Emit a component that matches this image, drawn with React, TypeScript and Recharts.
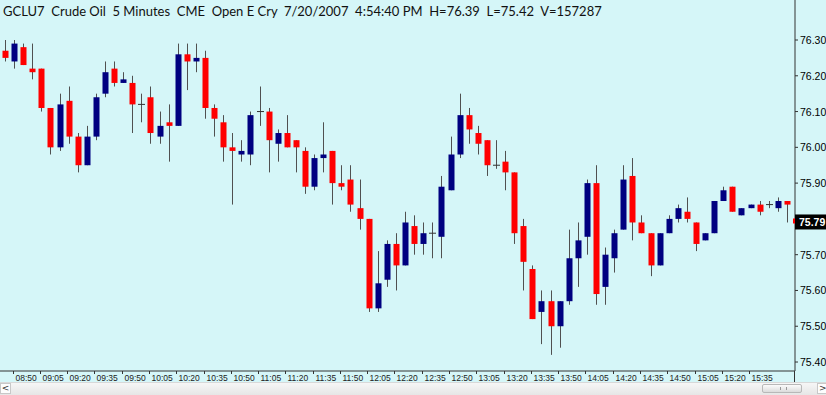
import React from "react";
import { ComposedChart, Bar, XAxis, YAxis } from "recharts";

const times = [
  "08:45","08:50","08:55","09:00","09:05","09:10","09:15","09:20","09:25","09:30",
  "09:35","09:40","09:45","09:50","09:55","10:00","10:05","10:10","10:15","10:20",
  "10:25","10:30","10:35","10:40","10:45","10:50","10:55","11:00","11:05","11:10",
  "11:15","11:20","11:25","11:30","11:35","11:40","11:45","11:50","11:55","12:00",
  "12:05","12:10","12:15","12:20","12:25","12:30","12:35","12:40","12:45","12:50",
  "12:55","13:00","13:05","13:10","13:15","13:20","13:25","13:30","13:35","13:40",
  "13:45","13:50","13:55","14:00","14:05","14:10","14:15","14:20","14:25","14:30",
  "14:35","14:40","14:45","14:50","14:55","15:00","15:05","15:10","15:15","15:20",
  "15:25","15:30","15:35","15:40","15:45","15:50","15:55",
];

const opens = [
  76.27,76.24,76.28,76.22,76.22,76.11,76.00,76.13,76.03,75.95,
  76.03,76.15,76.22,76.18,76.18,76.12,76.14,76.03,76.07,76.06,
  76.26,76.24,76.25,76.11,76.07,76.00,75.98,75.98,76.10,76.10,
  76.01,76.04,76.02,75.99,75.89,75.97,75.99,75.90,75.91,75.83,
  75.80,75.55,75.63,75.73,75.67,75.78,75.73,75.76,75.75,75.88,
  75.98,76.09,76.04,76.02,75.95,75.96,75.93,75.78,75.66,75.54,
  75.57,75.50,75.57,75.69,75.75,75.90,75.61,75.69,75.77,75.92,
  75.79,75.76,75.67,75.76,75.80,75.82,75.79,75.74,75.76,75.85,
  75.89,75.81,75.83,75.84,75.84,75.83,75.85,
];
const highs = [
  76.30,76.30,76.29,76.29,76.22,76.11,76.15,76.17,76.04,76.06,
  76.15,76.24,76.24,76.21,76.20,76.15,76.17,76.10,76.12,76.29,
  76.29,76.29,76.27,76.12,76.09,76.04,76.02,76.10,76.17,76.11,
  76.05,76.09,76.02,76.00,75.98,76.07,75.99,75.95,75.95,75.91,
  75.80,75.71,75.74,75.76,75.82,75.81,75.79,75.79,75.92,76.03,
  76.15,76.11,76.06,76.02,76.02,75.99,75.93,75.80,75.67,75.60,
  75.60,75.57,75.77,75.79,75.91,75.95,75.72,75.77,75.95,75.97,
  75.81,75.76,75.76,75.81,75.84,75.86,75.79,75.76,75.85,75.89,
  75.89,75.83,75.84,75.85,75.85,75.86,75.85,
];
const lows = [
  76.24,76.22,76.23,76.19,76.10,75.98,75.99,76.01,75.93,75.95,
  76.02,76.14,76.17,76.18,76.04,76.07,76.01,76.01,75.96,76.06,
  76.16,76.21,76.08,76.03,75.96,75.84,75.96,75.95,76.06,75.93,
  75.96,76.00,75.93,75.87,75.88,75.93,75.84,75.88,75.82,75.77,
  75.54,75.54,75.61,75.60,75.67,75.70,75.70,75.69,75.69,75.88,
  75.97,76.01,75.98,75.92,75.94,75.88,75.73,75.60,75.52,75.45,
  75.42,75.44,75.56,75.61,75.70,75.56,75.56,75.65,75.77,75.74,
  75.76,75.64,75.67,75.76,75.79,75.79,75.71,75.74,75.76,75.85,
  75.82,75.81,75.83,75.81,75.83,75.82,75.79,
];
const closes = [
  76.25,76.29,76.23,76.21,76.11,76.00,76.12,76.03,75.95,76.03,
  76.14,76.21,76.18,76.19,76.12,76.12,76.04,76.06,76.06,76.26,
  76.24,76.25,76.11,76.08,76.00,75.99,75.99,76.09,76.10,76.02,
  76.04,76.00,76.00,75.89,75.97,75.98,75.90,75.89,75.84,75.80,
  75.55,75.62,75.73,75.67,75.79,75.73,75.76,75.76,75.89,75.98,
  76.09,76.05,76.01,75.95,75.95,75.93,75.76,75.68,75.52,75.57,
  75.50,75.57,75.69,75.74,75.90,75.59,75.70,75.76,75.91,75.79,
  75.76,75.67,75.76,75.80,75.83,75.80,75.73,75.76,75.85,75.88,
  75.82,75.83,75.84,75.82,75.84,75.85,75.84,
];

const tickLabels = [
  "08:50","09:05","09:20","09:35","09:50","10:05","10:20","10:35","10:50","11:05",
  "11:20","11:35","11:50","12:05","12:20","12:35","12:50","13:05","13:20","13:35",
  "13:50","14:05","14:20","14:35","14:50","15:05","15:20","15:35",
];
const priceTicks = [75.4, 75.5, 75.6, 75.7, 75.9, 76.0, 76.1, 76.2, 76.3];
const lastPrice = 75.79;
const title = "GCLU7  Crude Oil  5 Minutes  CME  Open E Cry  7/20/2007  4:54:40 PM  H=76.39  L=75.42  V=157287";

const data = times.map((t, i) => ({
  time: t,
  open: opens[i],
  high: highs[i],
  low: lows[i],
  close: closes[i],
  range: [lows[i], highs[i]],
}));

const BG = "#D5F6F8";
const UP = "#000080";
const DOWN = "#FF0000";
const WICK = "#505050";

const Candle = (props: any) => {
  const { x, y, width, height, payload } = props;
  if (!payload) return null;
  const { open, close, high, low } = payload;
  const yTop = Math.min(y, y + height);
  const h = Math.abs(height);
  const span = high - low;
  const toY = (v: number) => (span === 0 ? yTop : yTop + ((high - v) / span) * h);
  const cx = Math.round(x + width / 2) + 0.5;
  const bx = cx - 3.5;
  const bw = 6;
  const top = toY(Math.max(open, close));
  const bot = toY(Math.min(open, close));
  return (
    <g>
      <line x1={cx} x2={cx} y1={yTop} y2={yTop + h} stroke={WICK} strokeWidth={1} />
      {open === close ? (
        <line x1={bx} x2={bx + bw + 1} y1={top} y2={top} stroke="#333" strokeWidth={1} />
      ) : (
        <rect x={bx + 0.5} y={top} width={bw} height={Math.max(bot - top, 1)} fill={close > open ? UP : DOWN} />
      )}
    </g>
  );
};

const XTick = (props: any) => {
  const { x, y, payload } = props;
  if (!tickLabels.includes(payload.value)) return null;
  const tx = Math.round(x) - 0.5;
  return (
    <g>
      <line x1={tx} x2={tx} y1={y - 3} y2={y} stroke="#333" />
      <text x={tx + 2} y={y + 7} textAnchor="start" fontFamily="'Liberation Sans', Arial, sans-serif" fontSize={8.5} fill="#222">
        {payload.value}
      </text>
    </g>
  );
};

const YTick = (props: any) => {
  const { x, y, payload } = props;
  const v = payload.value;
  if (Math.abs(v - lastPrice) < 1e-6) {
    return (
      <g>
        <rect x={x - 5} y={y - 8} width={32} height={15} fill="#000" />
        <rect x={x - 7} y={y - 4} width={2} height={5} fill={DOWN} />
        <text x={x - 1} y={y + 4} textAnchor="start" fontFamily="'Liberation Sans', Arial, sans-serif" fontSize={10.5} fontWeight="bold" fill="#fff">
          {v.toFixed(2)}
        </text>
      </g>
    );
  }
  return (
    <text x={x} y={y + 4} textAnchor="start" fontFamily="'Liberation Sans', Arial, sans-serif" fontSize={10.5} fill="#000">
      {v.toFixed(2)}
    </text>
  );
};

export default function App() {
  return (
    <div style={{ position: "absolute", left: 0, top: 0, width: 826, height: 395, background: BG, overflow: "hidden" }}>
      <ComposedChart width={826} height={395} data={data} margin={{ top: 0, right: 0, left: 0, bottom: 0 }}>
        <XAxis
          dataKey="time"
          interval={0}
          tickLine={false}
          tickSize={3}
          tickMargin={0}
          height={24}
          padding={{ left: 0, right: 4 }}
          axisLine={{ stroke: "#333" }}
          tick={XTick}
        />
        <YAxis
          orientation="right"
          width={31}
          domain={[75.3749, 76.4118]}
          allowDataOverflow
          interval={0}
          ticks={[...priceTicks, lastPrice]}
          tickSize={3}
          tickMargin={2}
          tickLine={{ stroke: "#333" }}
          axisLine={{ stroke: "#333" }}
          tick={YTick}
        />
        <Bar dataKey="range" barSize={6} shape={Candle} isAnimationActive={false} />
      </ComposedChart>
      <div
        style={{
          position: "absolute", left: 3, top: 3, fontFamily: "Lato, 'Open Sans', sans-serif", fontSize: 13,
          color: "#111", whiteSpace: "pre", lineHeight: "16px",
        }}
      >
        {title}
      </div>
      <div style={{ position: "absolute", left: 794, top: 371, width: 1, height: 12, background: "#333" }} />
      <div
        style={{
          position: "absolute", left: 0, top: 382, width: 826, height: 13,
          background: "linear-gradient(#f6f6f6, #e6e6e6)", borderTop: "1px solid #d8d8d8", boxSizing: "border-box",
        }}
      />
      <div
        style={{
          position: "absolute", left: 0, top: 383, width: 11, height: 11, background: "#fdfdfd", border: "1px solid #c8c8c8",
          boxSizing: "border-box", fontSize: 9, lineHeight: "9px", textAlign: "center", fontFamily: "'DejaVu Sans', sans-serif", color: "#333",
        }}
      >
        {"<"}
      </div>
      <div
        style={{
          position: "absolute", left: 762, top: 384, width: 40, height: 9, borderRadius: 2,
          background: "linear-gradient(#fbfbfb, #dcdcdc)", border: "1px solid #b8b8b8", boxSizing: "border-box",
        }}
      >
        <div style={{ position: "absolute", left: 17, top: 2, width: 5, height: 3, borderLeft: "1px solid #999", borderRight: "1px solid #999" }} />
      </div>
      <div
        style={{
          position: "absolute", left: 817, top: 383, width: 11, height: 11, background: "#fdfdfd", border: "1px solid #c8c8c8",
          boxSizing: "border-box", fontSize: 9, lineHeight: "9px", textAlign: "left", paddingLeft: 1, fontFamily: "'DejaVu Sans', sans-serif", color: "#333",
        }}
      >
        {">"}
      </div>
    </div>
  );
}
